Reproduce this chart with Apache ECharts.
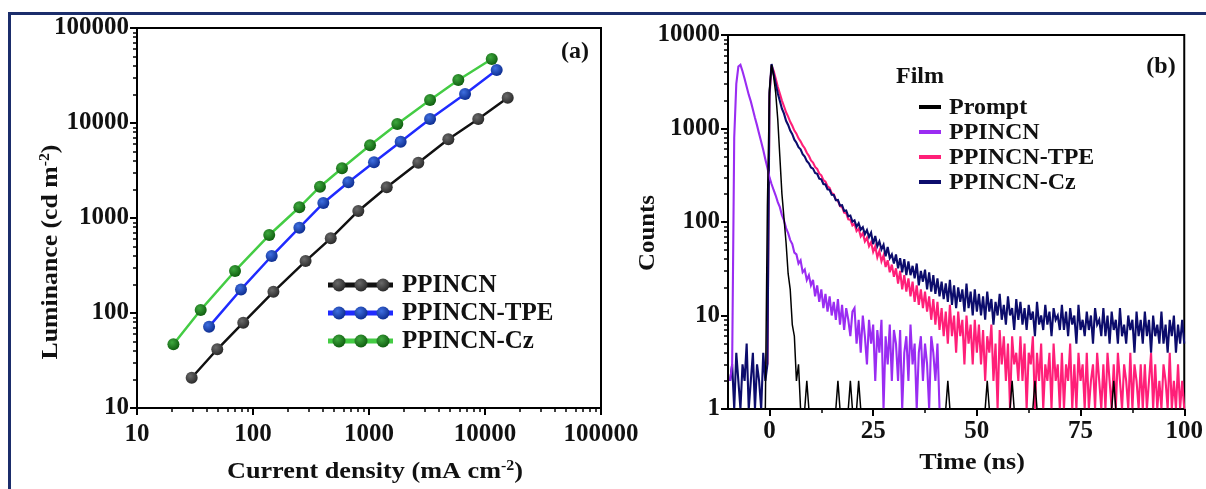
<!DOCTYPE html>
<html>
<head>
<meta charset="utf-8">
<script src="https://cdn.jsdelivr.net/npm/echarts@6/dist/echarts.min.js"></script>
<style>
  html, body { margin: 0; padding: 0; background: #ffffff; }
  #chart { width: 1206px; height: 489px; }
</style>
</head>
<body>
<div id="chart"></div>
<script>
// ---------- Panel (a): luminance vs current density ----------
const currentPPINCN = [29.6, 49.2, 82.4, 150, 284, 468, 809, 1422, 2662, 4830, 8750, 15700];
const lumPPINCN     = [20.8, 41.5, 79.1, 167, 352, 611, 1186, 2104, 3820, 6730, 11020, 18450];
const currentTPE    = [41.8, 78.8, 145, 251, 404, 664, 1104, 1875, 3360, 6730, 12610];
const lumTPE        = [71.8, 177, 398, 791, 1438, 2377, 3855, 6350, 11020, 20200, 36100];
const currentCz     = [20.6, 35.4, 70, 138, 251, 378, 585, 1021, 1754, 3360, 5890, 11430];
const lumCz         = [46.9, 107.7, 277, 662, 1297, 2134, 3335, 5820, 9750, 17460, 28380, 47200];

const xTicksA = [10, 100, 1000, 10000, 100000];
const yTicksA = [10, 100, 1000, 10000, 100000];

// ---------- Panel (b): transient PL decay (counts per 0.5 ns channel) ----------
const channelStart = -9.5;   // ns, first channel
const channelWidth = 0.5;    // ns
const countsPrompt = [
  1,1,1,1,1,1,1,1,1,1,1,1,1,1,1,1,1,1,150,2600,
  4800,3600,2400,1250,500,200,110,60,28,19,8,6,2,3,1,1,1,2,1,1,
  1,1,1,1,1,1,1,1,1,1,1,1,2,1,1,1,1,1,2,1,
  1,1,2,1,1,1,1,1,1,1,1,1,1,1,1,1,1,1,1,1,
  1,1,1,1,1,1,1,1,1,1,1,1,1,1,1,1,1,1,1,1,
  1,1,1,1,1,2,1,1,1,1,1,1,1,1,1,1,1,1,1,1,
  1,1,1,1,2,1,1,1,1,1,1,1,1,1,1,1,2,1,1,1,
  1,1,1,1,1,1,1,2,1,1,1,1,1,1,1,1,1,1,1,1,
  1,1,1,1,1,1,1,1,1,1,1,1,1,1,1,1,1,1,1,1,
  1,1,1,1,1,2,1,1,1,1,1,1,1,1,1,1,1,1,1,1,
  1,1,1,1,1,1,1,1,1,1,1,1,1,1,1,1,1,1,1,1
];
const countsPPINCN = [
  2,3,800,3000,4600,4800,4100,3400,2800,2300,1950,1600,1300,1080,880,720,590,470,380,300,
  255,220,192,163,144,118,104,86,76,64,58,47,45,36,39,29,31,24,27,21,
  24,16,21,14,19,12,17,11,16,10,14,9,15,8,13,7,12,9,6,11,
  12,5,9,4,10,6,3,9,5,8,2,7,4,9,1,6,3,8,2,7,
  5,2,7,1,4,6,2,8,3,5,1,4,6,2,5,3,1,6,4,2,
  5,1
];
const countsTPE = [
  null,null,null,null,null,null,null,null,null,null,null,null,null,null,null,null,null,null,3,2200,
  4700,4150,3420,2790,2370,1990,1730,1490,1340,1180,1070,950,880,785,730,660,615,550,510,455,
  432,388,370,330,316,281,270,240,231,204,198,173,169,148,145,126,124,107,106,92,
  96,80,85,70,76,62,68,55,61,48,55,42,49,38,44,33,39,29,35,26,
  32,22,30,19,27,18,25,16,23,14,21,13,19,12,18,11,16,9,15,8,
  14,7,12,6,11,5,13,6,10,4,11,6,9,3,10,5,8,3,9,4,
  8,3,7,2,6,4,8,2,5,1,7,3,6,2,5,1,6,3,4,2,
  6,2,5,1,4,3,6,1,4,2,5,1,3,2,4,1,5,2,3,1,
  4,1,3,2,5,1,3,1,4,2,3,1,4,1,2,3,1,4,2,1,
  3,1,4,2,1,3,1,4,2,1,3,2,1,4,1,3,2,1,3,1,
  3,1,2,4,1,3,1,2,1,3,2,1,4,1,2,1,3,1,2,1
];
const countsCz = [
  2,3,1,4,2,1,3,2,5,1,2,4,1,3,2,1,4,2,3,2400,
  4900,3850,3020,2380,1970,1630,1440,1210,1090,950,870,760,705,630,598,532,500,448,425,383,
  372,335,327,291,286,255,252,224,221,196,195,171,172,150,151,131,133,115,117,101,
  104,89,97,83,88,74,82,69,77,58,71,55,62,51,57,43,54,41,45,36,
  45,32,41,29,40,27,38,27,34,25,36,21,30,23,31,19,29,18,27,17,
  25,16,23,15,22,14,24,13,21,12,20,14,19,11,22,12,18,10,19,11,
  17,10,16,9,18,11,15,8,14,10,17,9,13,8,16,10,12,7,15,9,
  14,8,12,7,13,9,11,6,14,8,10,7,13,8,11,6,12,9,10,7,
  13,7,11,6,12,8,10,5,13,7,9,6,11,7,10,5,12,8,9,6,
  12,6,10,5,11,7,9,5,12,6,8,5,10,7,9,4,11,6,9,5,
  11,6,9,4,10,6,8,5,11,5,8,4,9,6,10,4,8,5,9,5
];

const xTicksB = [0, 25, 50, 75, 100];
const xMinorB = [12.5, 37.5, 62.5, 87.5];
const yTicksB = [1, 10, 100, 1000, 10000];

// ---------- helpers ----------
const FONT = '"Liberation Serif", "Times New Roman", serif';
const INK = '#111111';

function pairs(xs, ys) { return xs.map((x, i) => [x, ys[i]]); }
function decay(counts) {
  return counts.map((c, i) => [channelStart + i * channelWidth, c]);
}
function logMinors(loExp, hiExp) {
  const out = [];
  for (let e = loExp; e < hiExp; e++) {
    for (let k = 2; k <= 9; k++) out.push(k * Math.pow(10, e));
  }
  return out;
}
function shade(light, dark) {
  return { type: 'radial', x: 0.38, y: 0.35, r: 0.7,
    colorStops: [{ offset: 0, color: light }, { offset: 1, color: dark }] };
}
const tickLabel = { fontFamily: FONT, fontWeight: 'bold', fontSize: 25, color: INK };
const axisLine = { show: true, onZero: false, lineStyle: { color: '#000', width: 2 } };
const intLabel = v => String(Math.round(v));

function majorAxis(grid, type, min, max, ticks, margin) {
  return Object.assign({
    gridIndex: grid, type: type, min: min, max: max,
    axisLine: axisLine,
    axisTick: { show: true, inside: false, length: 7, customValues: ticks,
      lineStyle: { color: '#000', width: 2 } },
    axisLabel: Object.assign({ margin: margin, customValues: ticks, formatter: intLabel }, tickLabel),
    splitLine: { show: false }
  }, type === 'log' ? { logBase: 10 } : {});
}
function minorAxis(grid, type, min, max, ticks, position) {
  return Object.assign({
    gridIndex: grid, type: type, min: min, max: max, position: position,
    axisLine: { show: false, onZero: false },
    axisTick: { show: true, inside: false, length: 4, customValues: ticks,
      lineStyle: { color: '#000', width: 1.5 } },
    axisLabel: { show: false },
    splitLine: { show: false }
  }, type === 'log' ? { logBase: 10 } : {});
}

// series colours
const colA = {
  PPINCN: { line: '#111111', mark: shade('#6a6a6a', '#262626') },
  TPE:    { line: '#1f2bff', mark: shade('#3f6fe0', '#0b2a8c') },
  Cz:     { line: '#44cc44', mark: shade('#3ea83e', '#0d5a0d') }
};
const colB = { Prompt: '#000000', PPINCN: '#9a2cf2', TPE: '#ff1f78', Cz: '#0c0c6c' };

function lumSeries(name, xs, ys, c) {
  return {
    name: name, type: 'line', xAxisIndex: 0, yAxisIndex: 0,
    data: pairs(xs, ys), symbol: 'circle', symbolSize: 12, showSymbol: true,
    lineStyle: { color: c.line, width: 2.5 },
    itemStyle: { color: c.mark, borderWidth: 0 },
    z: 3
  };
}
function decaySeries(name, counts, color, width) {
  return {
    name: name, type: 'line', xAxisIndex: 2, yAxisIndex: 2,
    data: decay(counts), showSymbol: false, symbol: 'none',
    connectNulls: false,
    lineStyle: { color: color, width: width, join: 'miter', miterLimit: 4 },
    z: 3
  };
}

// legend / caption drawing
const bold = { fontFamily: FONT, fontWeight: 'bold', fill: INK };
function caption(text, x, y, size, opts) {
  return Object.assign({ type: 'text', x: x, y: y,
    style: Object.assign({ text: text, fontSize: size, align: 'center', verticalAlign: 'middle' }, bold) }, opts || {});
}
function richCaption(head, sup, tail, x, y, opts) {
  return Object.assign({ type: 'text', x: x, y: y,
    style: Object.assign({ text: '{n|' + head + '}{s|' + sup + '}{n|' + tail + '}', align: 'center', verticalAlign: 'middle',
      rich: { n: { fontSize: 23, fontFamily: FONT, fontWeight: 'bold', lineHeight: 26 },
              s: { fontSize: 14, fontFamily: FONT, fontWeight: 'bold', verticalAlign: 'top' } } }, bold) }, opts || {});
}

const graphics = [
  // frame
  { type: 'rect', shape: { x: 8, y: 12, width: 1198, height: 3 }, style: { fill: '#1b2d6b' }, silent: true },
  { type: 'rect', shape: { x: 8, y: 12, width: 3, height: 477 }, style: { fill: '#1b2d6b' }, silent: true },
  // axis titles
  richCaption('Luminance (cd m', '-2', ')', 51, 252, { rotation: Math.PI / 2, scaleX: 1.12 }),
  richCaption('Current density (mA cm', '-2', ')', 375, 472, { scaleX: 1.14 }),
  caption('Counts', 648, 233, 23, { rotation: Math.PI / 2, scaleX: 1.08 }),
  caption('Time (ns)', 972, 463, 23, { scaleX: 1.13 }),
  // panel tags
  caption('(a)', 575, 52, 24),
  caption('(b)', 1161, 67, 24),
  { type: 'text', x: 896, y: 77, style: Object.assign({ text: 'Film', fontSize: 24, align: 'left', verticalAlign: 'middle' }, bold) }
];

const legendA = [['PPINCN', colA.PPINCN, 285], ['PPINCN-TPE', colA.TPE, 313], ['PPINCN-Cz', colA.Cz, 341]];
legendA.forEach(([label, c, y]) => {
  graphics.push({ type: 'line', shape: { x1: 328, y1: y, x2: 393, y2: y }, style: { stroke: c.line, lineWidth: 5 } });
  [339, 361, 383].forEach(cx => graphics.push({ type: 'circle', shape: { cx: cx, cy: y, r: 6.5 }, style: { fill: c.mark } }));
  graphics.push({ type: 'text', x: 402, y: y + 1,
    style: Object.assign({ text: label, fontSize: 25, align: 'left', verticalAlign: 'middle' }, bold) });
});
const legendB = [['Prompt', colB.Prompt, 107], ['PPINCN', colB.PPINCN, 132], ['PPINCN-TPE', colB.TPE, 157], ['PPINCN-Cz', colB.Cz, 182]];
legendB.forEach(([label, color, y]) => {
  graphics.push({ type: 'line', shape: { x1: 919, y1: y, x2: 941, y2: y }, style: { stroke: color, lineWidth: 4 } });
  graphics.push({ type: 'text', x: 949, y: y + 1,
    style: Object.assign({ text: label, fontSize: 24, align: 'left', verticalAlign: 'middle' }, bold) });
});

const chart = echarts.init(document.getElementById('chart'), null, { renderer: 'canvas' });
chart.setOption({
  animation: false,
  backgroundColor: '#ffffff',
  grid: [
    { left: 137, top: 28, width: 464, height: 380, show: true, borderColor: '#000', borderWidth: 2, containLabel: false },
    { left: 728, top: 35, width: 457, height: 374, show: true, borderColor: '#000', borderWidth: 2, containLabel: false }
  ],
  xAxis: [
    majorAxis(0, 'log', 10, 100000, xTicksA, 14),
    minorAxis(0, 'log', 10, 100000, logMinors(1, 5), 'bottom'),
    majorAxis(1, 'value', -10, 100, xTicksB, 10),
    minorAxis(1, 'value', -10, 100, xMinorB, 'bottom')
  ],
  yAxis: [
    majorAxis(0, 'log', 10, 100000, yTicksA, 8),
    minorAxis(0, 'log', 10, 100000, logMinors(1, 5), 'left'),
    majorAxis(1, 'log', 1, 10000, yTicksB, 8),
    minorAxis(1, 'log', 1, 10000, logMinors(0, 4), 'left')
  ],
  series: [
    lumSeries('PPINCN', currentPPINCN, lumPPINCN, colA.PPINCN),
    lumSeries('PPINCN-TPE', currentTPE, lumTPE, colA.TPE),
    lumSeries('PPINCN-Cz', currentCz, lumCz, colA.Cz),
    decaySeries('PPINCN-TPE', countsTPE, colB.TPE, 2.1),
    decaySeries('PPINCN-Cz', countsCz, colB.Cz, 2.1),
    decaySeries('PPINCN', countsPPINCN, colB.PPINCN, 2.1),
    decaySeries('Prompt', countsPrompt, colB.Prompt, 1.5)
  ],
  graphic: graphics
});
</script>
</body>
</html>
